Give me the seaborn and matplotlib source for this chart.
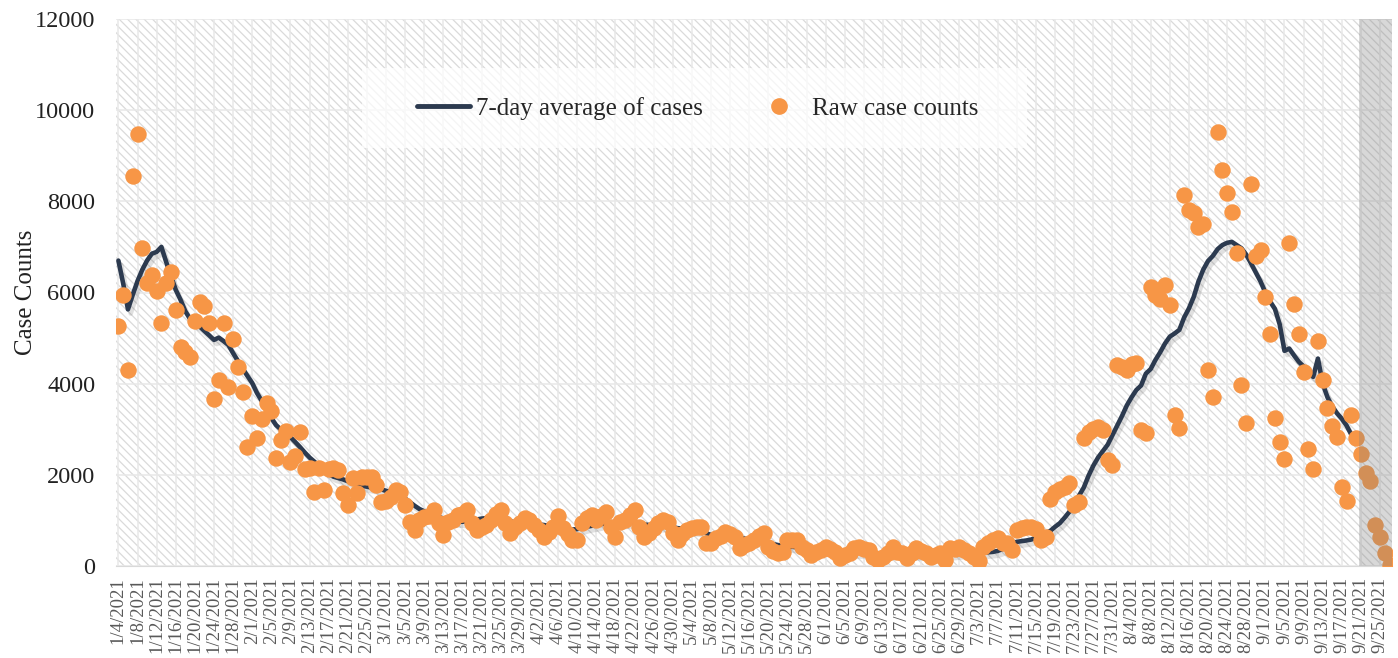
import numpy as np
import pandas as pd
import matplotlib
matplotlib.use("Agg")
import matplotlib.pyplot as plt
import matplotlib.patheffects as pe
from matplotlib.lines import Line2D
from matplotlib.patches import Rectangle
import seaborn as sns

# daily raw case counts, 1/4/2021 .. 9/27/2021
raw_cases = [
    5270, 5950, 4300, 8560, 9470, 6980, 6200, 6390, 6030, 5330,
    6200, 6440, 5620, 4810, 4690, 4580, 5380, 5790, 5710, 5330,
    3660, 4070, 5330, 3920, 4980, 4370, 3820, 2620, 3280, 2800,
    3220, 3580, 3410, 2360, 2760, 2970, 2290, 2410, 2930, 2120,
    2140, 1630, 2140, 1670, 2120, 2140, 2100, 1600, 1340, 1920,
    1600, 1960, 1950, 1960, 1780, 1410, 1420, 1520, 1670, 1630,
    1340, 970, 790, 1010, 1080, 1100, 1230, 940, 680, 970,
    1000, 1120, 1150, 1230, 940, 790, 860, 900, 1010, 1150,
    1230, 940, 720, 860, 950, 1050, 1010, 900, 790, 640,
    750, 860, 1100, 830, 700, 570, 580, 940, 1050, 1120,
    1010, 1100, 1190, 860, 640, 970, 1010, 1120, 1230, 860,
    640, 720, 830, 950, 1010, 970, 720, 570, 700, 790,
    830, 850, 860, 500, 500, 610, 650, 750, 700, 640,
    390, 450, 500, 570, 650, 720, 420, 330, 280, 310,
    570, 570, 560, 420, 350, 240, 300, 350, 420, 380,
    310, 170, 240, 280, 390, 420, 380, 350, 200, 130,
    200, 280, 420, 300, 280, 170, 280, 390, 330, 280,
    200, 240, 280, 130, 390, 380, 420, 350, 280, 200,
    100, 420, 500, 570, 610, 500, 500, 350, 790, 830,
    860, 860, 820, 570, 640, 1480, 1630, 1700, 1740, 1810,
    1340, 1410, 2800, 2950, 3000, 3060, 2980, 2330, 2210, 4410,
    4370, 4300, 4440, 4450, 2980, 2910, 6130, 5950, 5850, 6160,
    5730, 3310, 3020, 8140, 7800, 7750, 7440, 7500, 4300, 3710,
    9530, 8690, 8190, 7770, 6860, 3970, 3140, 8380, 6790, 6930,
    5910, 5100, 3240, 2730, 2340, 7080, 5750, 5100, 4250, 2560,
    2120, 4940, 4080, 3470, 3070, 2840, 1730, 1430, 3310, 2800,
    2460, 2050, 1870, 900, 630, 280, 20,
]

# 7-day average (ends where the last full week ends)
avg_cases = [
    6700, 6200, 5630, 5950, 6250, 6500, 6700, 6850, 6890, 7000,
    6670, 6360, 6060, 5840, 5590, 5420, 5310, 5255, 5155, 5060,
    4960, 5010, 4935, 4850, 4670, 4500, 4330, 4170, 4015, 3795,
    3620, 3465, 3245, 3090, 2995, 2950, 2830, 2720, 2610, 2490,
    2380, 2290, 2195, 2105, 2020, 1960, 1930, 1900, 1860, 1830,
    1790, 1760, 1740, 1720, 1700, 1680, 1650, 1620, 1590, 1550,
    1480, 1400, 1320, 1250, 1200, 1150, 1110, 1080, 1040, 1010,
    980, 980, 970, 990, 1000, 1020, 1040, 1050, 1040, 1030,
    1020, 1000, 980, 960, 950, 940, 930, 920, 910, 900,
    880, 860, 840, 810, 800, 800, 810, 830, 860, 880,
    900, 920, 930, 930, 940, 940, 950, 960, 950, 930,
    910, 900, 890, 880, 870, 860, 850, 830, 820, 800,
    790, 780, 760, 720, 680, 690, 680, 670, 660, 640,
    620, 600, 580, 560, 540, 520, 500, 480, 460, 440,
    430, 420, 410, 400, 390, 380, 370, 360, 350, 340,
    330, 320, 310, 300, 300, 300, 290, 290, 280, 280,
    270, 270, 270, 270, 260, 260, 260, 260, 260, 250,
    250, 250, 250, 250, 260, 270, 280, 290, 290, 290,
    280, 290, 300, 310, 330, 370, 420, 480, 530, 545,
    560, 580, 620, 670, 720, 770, 860, 940, 1060, 1190,
    1360, 1540, 1720, 1980, 2200, 2380, 2520, 2660, 2870, 3080,
    3290, 3520, 3700, 3860, 3960, 4220, 4320, 4520, 4690, 4880,
    5030, 5100, 5180, 5450, 5650, 5900, 6240, 6500, 6690, 6800,
    6950, 7040, 7090, 7110, 7040, 6970, 6830, 6640, 6440, 6240,
    6000, 5800, 5640, 5300, 4720, 4770, 4620, 4480, 4380, 4240,
    4150, 4550, 4000, 3700, 3500, 3350, 3230, 3080, 2880,
]
incomplete_days = 7  # shaded, data still coming in

dates = pd.date_range("2021-01-04", periods=len(raw_cases), freq="D")
day = np.arange(len(raw_cases))
avg_full = avg_cases + [np.nan] * (len(raw_cases) - len(avg_cases))
df = pd.DataFrame({"day": day, "raw": raw_cases, "avg": avg_full})
tick_labels = [f"{d.month}/{d.day}/{d.year}" for d in dates[::4]]

sns.set_style("white")
plt.rcParams["font.family"] = ["Liberation Serif", "DejaVu Serif"]
plt.rcParams["hatch.linewidth"] = 0.9

fig = plt.figure(figsize=(13.98, 6.58), dpi=100)
ax = fig.add_axes([116 / 1398, 1 - 566 / 658, 1276 / 1398, 547 / 658])

n = len(raw_cases)
last = n - incomplete_days
# hatched background and shaded "incomplete" region
ax.axvspan(-0.5, n - 0.5, facecolor="white", edgecolor="#dadada",
           hatch="\\\\\\\\", lw=0, zorder=0)

orange = "#f79646"
navy = "#2c3a4f"

sns.lineplot(data=df, x="day", y="avg", color=navy, linewidth=3.3, ax=ax,
             zorder=3, path_effects=[pe.SimpleLineShadow(offset=(2, -3), alpha=0.15,
                                                         shadow_color="#333333"),
                                     pe.Normal()])
sns.scatterplot(data=df, x="day", y="raw", color=orange, s=140, linewidth=0,
                ax=ax, zorder=4)

ax.axvspan(last - 0.5, n - 0.5, facecolor="#7f7f7f", alpha=0.3, lw=0, zorder=5)

ax.set_xlim(-0.5, n - 0.5)
ax.set_ylim(0, 12000)
ax.set_yticks(range(0, 12001, 2000))
ax.set_xticks(day[::4])
ax.set_xticklabels(tick_labels, rotation=90, fontsize=13.5, color="#595959")
ax.tick_params(axis="y", labelsize=17.5, labelcolor="#222222", length=0, pad=15)
ax.tick_params(axis="x", length=0, pad=8)

ax.grid(True, axis="both", color="#e8e8e8", linewidth=1.1, zorder=1)
ax.set_axisbelow(True)
for s in ["top", "right", "left"]:
    ax.spines[s].set_visible(False)
ax.spines["bottom"].set_color("#d9d9d9")

ax.set_xlabel("")
ax.set_ylabel("Case Counts", fontsize=18, color="#222222")
ax.yaxis.set_label_coords(-0.062, 0.5)

# legend box
ax.add_patch(Rectangle((0.193, 0.764), 0.521, 0.146, transform=ax.transAxes,
                       facecolor="white", alpha=0.72, edgecolor="none", zorder=6))
handles = [Line2D([], [], color=navy, lw=3.5),
           Line2D([], [], marker="o", ls="", markersize=11, color=orange)]
leg = ax.legend(handles, ["7-day average of cases", "Raw case counts"],
                loc="center", bbox_to_anchor=(0.456, 0.837), ncol=2,
                frameon=False, fontsize=18, handlelength=2.1,
                handletextpad=0.25, columnspacing=2.0)
leg.set_zorder(7)
for t in leg.get_texts():
    t.set_color("#262626")

fig.savefig("out.png", dpi=100)
